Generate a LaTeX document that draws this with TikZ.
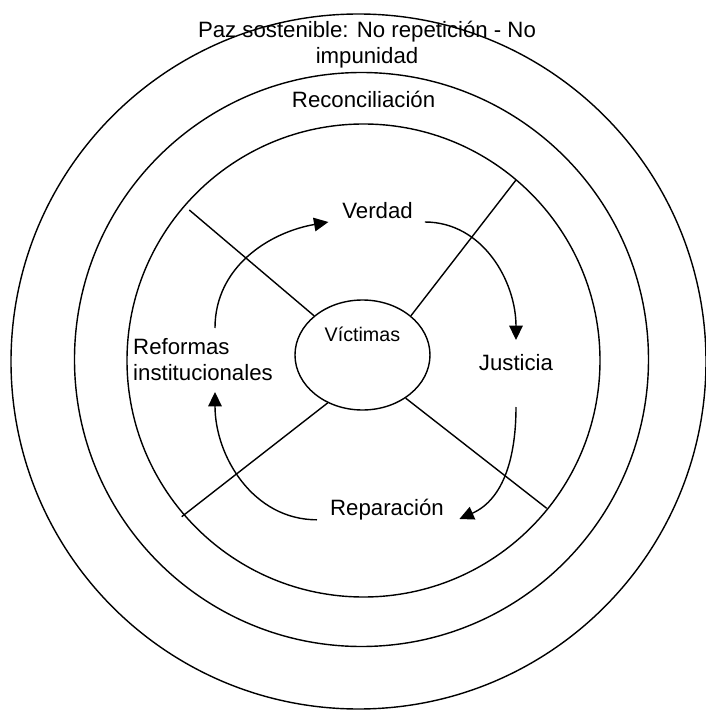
\documentclass[tikz,border=0pt]{standalone}
\usepackage{fontspec}
\setmainfont{Liberation Sans}
\usetikzlibrary{arrows.meta,shapes.geometric}

\begin{document}
\begin{tikzpicture}[
    line width=1pt,
    etiqueta/.style={font=\fontsize{15.8}{18.5}\selectfont, inner sep=0pt, outer sep=0pt},
    flecha/.style={-{Triangle[length=0.36cm,width=0.34cm]}},
  ]
  \useasboundingbox (-9.05,-8.775) rectangle (8.6,9.0);

  % Círculos concéntricos
  \draw (-0.0875,-0.0375) circle (8.6875);
  \draw (-0.0125,0.0125) circle (7.175);
  \draw (0.0375,-0.0125) circle (5.9125);

  % Víctimas
  \node[draw, ellipse, minimum width=3.375cm, minimum height=2.75cm, inner sep=0pt] (victimas) at (0.0125,0.125) {};
  \node[etiqueta, font=\fontsize{14}{16}\selectfont, anchor=base] (victimastxt) at (0.01,0.46) {Víctimas};

  % Divisiones
  \coordinate (div1) at (-4.3175,3.75);
  \coordinate (div2) at (3.85,4.5);
  \coordinate (div3) at (4.6175,-3.7075);
  \coordinate (div4) at (-4.5075,-3.9175);
  \draw (div1) -- (victimas.141);
  \draw (div2) -- (victimas.39);
  \draw (div3) -- (victimas.315);
  \draw (div4) -- (victimas.234);

  % Textos
  \node[etiqueta, align=center] (paz) at (0.125,7.88) {Paz sostenible: No repetición - No\\impunidad};
  \node[etiqueta, anchor=base] (reconciliacion) at (0.04,6.3) {Reconciliación};
  \node[etiqueta, anchor=base] (verdad) at (0.39,3.55) {Verdad};
  \node[etiqueta, anchor=base] (justicia) at (3.85,-0.25) {Justicia};
  \node[etiqueta, anchor=base] (reparacion) at (0.625,-3.875) {Reparación};
  \node[etiqueta, align=left] (reformas) at (-3.975,0) {Reformas\\institucionales};

  % Ciclo
  \draw[flecha] ([shift={(0.3,0.8)}]reformas.center) to[out=90,in=190] ([shift={(-0.35,-0.1)}]verdad.base west);
  \draw[flecha] ([shift={(0.3,-0.1)}]verdad.base east) to[out=0,in=90] ([yshift=0.75cm]justicia.base);
  \draw[flecha] ([yshift=-0.925cm]justicia.base) to[out=-90,in=24] ([shift={(0.39,-0.1)}]reparacion.base east);
  \draw[flecha] ([shift={(-0.33,-0.12)}]reparacion.base west) to[out=180,in=-90] ([shift={(0.3,-0.8)}]reformas.center);
\end{tikzpicture}
\end{document}
